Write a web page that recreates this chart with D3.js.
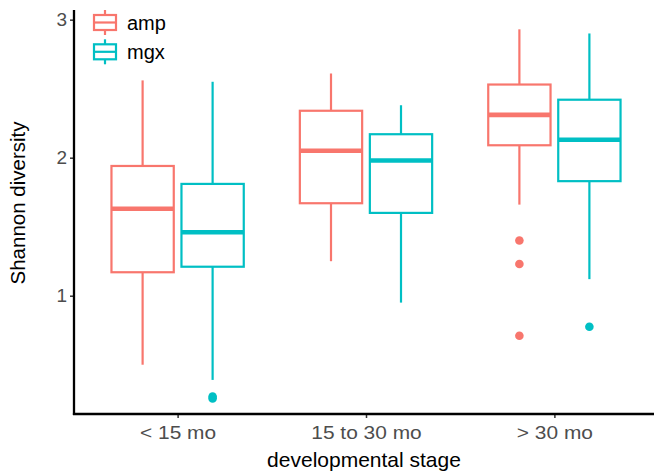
<!DOCTYPE html>
<html>
<head>
<meta charset="utf-8">
<script src="https://cdn.jsdelivr.net/npm/d3@7"></script>
<style>
  html, body { margin: 0; padding: 0; background: #fff; }
  svg { display: block; font-family: "Liberation Sans", Arial, Helvetica, sans-serif; }
</style>
</head>
<body>
<svg id="chart" width="654" height="475"></svg>
<script>
// ---- data ----
const categories = ["< 15 mo", "15 to 30 mo", "> 30 mo"];
const groups = ["amp", "mgx"];
const groupColors = ["#F8766D", "#00BFC4"];

const ampLower  = [0.50, 1.25, 1.66];
const ampQ1     = [1.17, 1.67, 2.09];
const ampMedian = [1.63, 2.05, 2.31];
const ampQ3     = [1.94, 2.34, 2.53];
const ampUpper  = [2.56, 2.61, 2.93];
const ampOutliers = [[], [], [1.40, 1.23, 0.71]];

const mgxLower  = [0.39, 0.95, 1.12];
const mgxQ1     = [1.21, 1.60, 1.83];
const mgxMedian = [1.46, 1.98, 2.13];
const mgxQ3     = [1.81, 2.17, 2.42];
const mgxUpper  = [2.55, 2.38, 2.90];
const mgxOutliers = [[0.27, 0.255], [], [0.775]];

const yTicks = [1, 2, 3];
const xTitle = "developmental stage";
const yTitle = "Shannon diversity";

// ---- build table ----
const stats = {
  amp: {lower: ampLower, q1: ampQ1, median: ampMedian, q3: ampQ3, upper: ampUpper, out: ampOutliers},
  mgx: {lower: mgxLower, q1: mgxQ1, median: mgxMedian, q3: mgxQ3, upper: mgxUpper, out: mgxOutliers}
};
const boxes = [];
categories.forEach((c, i) => {
  groups.forEach(g => {
    const s = stats[g];
    boxes.push({cat: c, group: g, lower: s.lower[i], q1: s.q1[i], median: s.median[i],
                q3: s.q3[i], upper: s.upper[i], out: s.out[i]});
  });
});

// ---- layout ----
const svg = d3.select("#chart");
const panel = {left: 74, right: 654, top: 10, bottom: 414};

const x = d3.scalePoint().domain(categories).range([panel.left, 658]).padding(0.55);
const xg = d3.scaleBand().domain(groups).range([-70, 70]).padding(0);
const y = d3.scaleLinear().domain([0.143, 3.07]).range([panel.bottom, panel.top]);
const color = d3.scaleOrdinal().domain(groups).range(groupColors);

const boxW = xg.bandwidth() * 0.89;

// ---- boxes ----
const gBox = svg.append("g");
boxes.forEach(b => {
  const cx = x(b.cat) + xg(b.group) + xg.bandwidth() / 2;
  const col = color(b.group);
  const g = gBox.append("g");
  g.append("line").attr("x1", cx).attr("x2", cx).attr("y1", y(b.q3)).attr("y2", y(b.upper))
    .attr("stroke", col).attr("stroke-width", 2.2);
  g.append("line").attr("x1", cx).attr("x2", cx).attr("y1", y(b.q1)).attr("y2", y(b.lower))
    .attr("stroke", col).attr("stroke-width", 2.2);
  g.append("rect").attr("x", cx - boxW / 2).attr("width", boxW)
    .attr("y", y(b.q3)).attr("height", y(b.q1) - y(b.q3))
    .attr("fill", "#fff").attr("stroke", col).attr("stroke-width", 2.2);
  g.append("line").attr("x1", cx - boxW / 2).attr("x2", cx + boxW / 2)
    .attr("y1", y(b.median)).attr("y2", y(b.median))
    .attr("stroke", col).attr("stroke-width", 4.6);
  b.out.forEach(v => {
    g.append("circle").attr("cx", cx).attr("cy", y(v)).attr("r", 4.3).attr("fill", col);
  });
});

// ---- axes ----
const axisColor = "#000";
const tickTextColor = "#4D4D4D";

const yAxis = svg.append("g").attr("transform", `translate(${panel.left},0)`)
  .call(d3.axisLeft(y).tickValues(yTicks).tickFormat(d3.format("d")).tickSize(4).tickPadding(3));
yAxis.select(".domain").remove();
yAxis.selectAll(".tick line").attr("stroke", "#333").attr("stroke-width", 1.5);
yAxis.selectAll(".tick text").attr("fill", tickTextColor).style("font-size", "19px");
svg.append("line").attr("x1", panel.left).attr("x2", panel.left)
  .attr("y1", panel.top).attr("y2", panel.bottom + 1)
  .attr("stroke", axisColor).attr("stroke-width", 2.3);

const xAxis = svg.append("g").attr("transform", `translate(0,${panel.bottom})`)
  .call(d3.axisBottom(x).tickSize(4).tickPadding(8));
xAxis.select(".domain").remove();
xAxis.selectAll(".tick line").attr("stroke", "#333").attr("stroke-width", 1.5);
xAxis.selectAll(".tick text").attr("fill", tickTextColor).style("font-size", "19px")
  .attr("transform", "scale(1.1,1)");
svg.append("line").attr("x1", panel.left - 1.1).attr("x2", panel.right)
  .attr("y1", panel.bottom).attr("y2", panel.bottom)
  .attr("stroke", axisColor).attr("stroke-width", 2.3);

// titles
svg.append("text").attr("x", (panel.left + panel.right) / 2).attr("y", 467)
  .attr("text-anchor", "middle").style("font-size", "21px").attr("fill", "#000").text(xTitle);
svg.append("text").attr("transform", `translate(25,${(panel.top + panel.bottom) / 2 - 9}) rotate(-90)`)
  .attr("text-anchor", "middle").style("font-size", "20.5px").attr("fill", "#000").text(yTitle);

// ---- legend ----
const legend = svg.append("g").attr("transform", "translate(93,10)");
groups.forEach((g, i) => {
  const col = color(g);
  const gy = i * 29.3;
  const item = legend.append("g").attr("transform", `translate(0,${gy})`);
  item.append("line").attr("x1", 12).attr("x2", 12).attr("y1", 0).attr("y2", 25)
    .attr("stroke", col).attr("stroke-width", 2.2);
  item.append("rect").attr("x", 1).attr("y", 5).attr("width", 22).attr("height", 15)
    .attr("fill", "#fff").attr("stroke", col).attr("stroke-width", 2.2);
  item.append("line").attr("x1", 1).attr("x2", 23).attr("y1", 12.5).attr("y2", 12.5)
    .attr("stroke", col).attr("stroke-width", 2.2);
  item.append("text").attr("x", 34).attr("y", 20).style("font-size", "20px")
    .attr("fill", "#000").text(g);
});
</script>
</body>
</html>
